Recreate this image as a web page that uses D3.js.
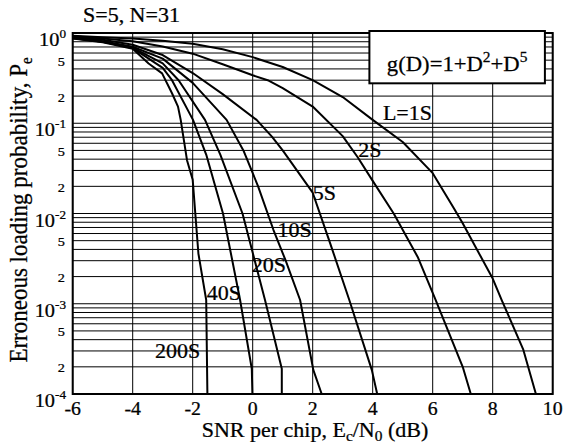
<!DOCTYPE html>
<html>
<head>
<meta charset="utf-8">
<script src="https://cdn.jsdelivr.net/npm/d3@7"></script>
<style>
  body { margin: 0; background: #fff; }
  text { font-family: "Liberation Serif", "Times New Roman", serif; fill: #000; stroke: #000; stroke-width: 0.25; }
  .grid line { stroke: #000; stroke-width: 1; }
  .curve { fill: none; stroke: #000; stroke-width: 2; stroke-linejoin: round; }
</style>
</head>
<body>
<svg></svg>
<script>
// axis ticks
var xTicks = [-6, -4, -2, 0, 2, 4, 6, 8, 10];
var yDecades = [0, -1, -2, -3, -4];
var yMinorLabels = [5, 2];

// curves: SNR (dB) and Pe
var snr1S = [-6, -5, -4, -3, -2, -1, 0, 1, 2, 3, 4, 5, 6, 6.7, 7, 8, 8.3, 9.02, 9.44];
var pe1S = [0.93, 0.9, 0.87, 0.82, 0.76, 0.66, 0.54, 0.42, 0.3, 0.195, 0.109, 0.062, 0.028, 0.0115, 0.0078, 0.0019, 0.0011, 0.00031, 0.0001];

var snr2S = [-6, -5, -4, -3, -2, -1, 0, 0.5, 1, 2, 3, 3.5, 4, 4.7, 5.5, 6.1, 7, 7.27];
var pe2S = [0.92, 0.87, 0.81, 0.71, 0.59, 0.45, 0.34, 0.3, 0.245, 0.153, 0.072, 0.042, 0.023, 0.01, 0.0033, 0.0011, 0.0002, 0.0001];

var snr5S = [-6, -5, -4, -3, -2, -1, 0.13, 0.64, 1, 2, 2.58, 3.22, 3.97, 4.15];
var pe5S = [0.9, 0.84, 0.74, 0.57, 0.36, 0.21, 0.109, 0.071, 0.05, 0.017, 0.0047, 0.0011, 0.000185, 0.0001];

var snr10S = [-6, -5, -4, -3, -2, -0.87, -0.31, 0.18, 0.69, 1.1, 1.58, 2.02, 2.3];
var pe10S = [0.89, 0.81, 0.705, 0.52, 0.28, 0.109, 0.05, 0.02, 0.0066, 0.003, 0.0011, 0.000185, 0.0001];

var snr20S = [-6, -5, -4, -3, -2.47, -1.59, -1.08, -0.34, 0.41, 0.97, 0.97];
var pe20S = [0.88, 0.8, 0.69, 0.46, 0.3, 0.109, 0.045, 0.01, 0.0011, 0.00019, 0.0001];

var snr40S = [-6, -5, -4, -3, -2.69, -1.99, -1.55, -0.99, -0.42, -0.03, -0.01];
var pe40S = [0.875, 0.8, 0.68, 0.41, 0.3, 0.109, 0.045, 0.01, 0.0011, 0.00019, 0.0001];

var snr200S = [-6, -5, -4, -3.47, -3.02, -2.69, -2.49, -2.4, -2.19, -2.0, -1.81, -1.55, -1.51];
var pe200S = [0.87, 0.79, 0.67, 0.46, 0.357, 0.215, 0.153, 0.109, 0.039, 0.0236, 0.0036, 0.0011, 0.0001];

var curveNames = ["L=1S", "2S", "5S", "10S", "20S", "40S", "200S"];
var curveSnr = [snr1S, snr2S, snr5S, snr10S, snr20S, snr40S, snr200S];
var curvePe = [pe1S, pe2S, pe5S, pe10S, pe20S, pe40S, pe200S];

// where the curve labels sit (data units, left/baseline of text)
var labelAt = [[4.34, 0.1087], [3.52, 0.0426], [2.0, 0.0141], [0.83, 0.00553], [-0.03, 0.00226], [-1.53, 0.0011], [-3.26, 0.00025]];

var W = 564, H = 447;
var sx = 1.1; // the original lettering is a bit wide

var svg = d3.select("svg").attr("width", W).attr("height", H);

var x = d3.scaleLinear().domain([-6, 10]).range([72.7, 552.7]);
var y = d3.scaleLog().domain([1e-4, 1]).range([394, 33]);

// horizontal grid: every 1..9 of each decade
var yGrid = [];
yDecades.slice(1).forEach(function (d) {
	for (var k = 1; k <= 9; k++) yGrid.push(k * Math.pow(10, d));
});

var grid = svg.append("g").attr("class", "grid");
grid.selectAll(".hg").data(yGrid).enter().append("line")
	.attr("x1", x(-6)).attr("x2", x(10))
	.attr("y1", d => y(d)).attr("y2", d => y(d));
grid.selectAll(".vg").data(xTicks).enter().append("line")
	.attr("x1", d => x(d)).attr("x2", d => x(d))
	.attr("y1", y(1)).attr("y2", y(1e-4));

// curves
var line = d3.line().x(d => x(d[0])).y(d => y(d[1]));
curveSnr.forEach(function (s, i) {
	svg.append("path").attr("class", "curve")
		.attr("d", line(s.map((v, j) => [v, curvePe[i][j]])));
});

// frame
svg.append("rect")
	.attr("x", x(-6)).attr("y", y(1))
	.attr("width", x(10) - x(-6)).attr("height", y(1e-4) - y(1))
	.attr("fill", "none").attr("stroke", "#000").attr("stroke-width", 2);

// note box
var bx0 = x(3.89), bx1 = x(9.74), by0 = y(1) - 2, by1 = y(0.277);
svg.append("rect")
	.attr("x", bx0).attr("y", by0).attr("width", bx1 - bx0).attr("height", by1 - by0)
	.attr("fill", "#fff").attr("stroke", "#000").attr("stroke-width", 2);
var note = svg.append("text")
	.attr("text-anchor", "middle")
	.attr("transform", "translate(" + ((bx0 + bx1) / 2) + "," + (by1 - 12) + ") scale(1.03,1)")
	.style("font-size", "22px");
note.append("tspan").text("g(D)=1+D");
note.append("tspan").attr("dy", -9).style("font-size", "15px").text("2");
note.append("tspan").attr("dy", 9).text("+D");
note.append("tspan").attr("dy", -9).style("font-size", "15px").text("5");

function put(sel, px, py, extra) {
	return sel.attr("transform", "translate(" + px + "," + py + ") scale(" + sx + ",1)" + (extra || ""));
}

// curve labels
curveNames.forEach(function (n, i) {
	put(svg.append("text").style("font-size", "20px").text(n), x(labelAt[i][0]), y(labelAt[i][1]));
});

// x tick labels
xTicks.forEach(function (t) {
	put(svg.append("text").attr("text-anchor", "middle").style("font-size", "18px").text(t), x(t), 414.5);
});

// y tick labels
yDecades.forEach(function (d) {
	var t = put(svg.append("text").attr("text-anchor", "end").style("font-size", "18.5px"), 66, y(Math.pow(10, d)) + 13);
	t.append("tspan").text("10");
	t.append("tspan").attr("dy", -8).style("font-size", "12px").text(d);
});
yDecades.slice(1).forEach(function (d) {
	yMinorLabels.forEach(function (k) {
		put(svg.append("text").attr("text-anchor", "end").style("font-size", "13px").text(k),
			65, y(k * Math.pow(10, d)) + 5.5);
	});
});

// title and axis titles
put(svg.append("text").style("font-size", "20px").text("S=5, N=31"), 83, 21.7);

var xl = put(svg.append("text").attr("text-anchor", "middle").style("font-size", "20px"), 315, 436.5);
xl.append("tspan").text("SNR per chip, E");
xl.append("tspan").attr("dy", 4).style("font-size", "14px").text("c");
xl.append("tspan").attr("dy", -4).text("/N");
xl.append("tspan").attr("dy", 4).style("font-size", "14px").text("0");
xl.append("tspan").attr("dy", -4).text(" (dB)");

var yl = svg.append("text").attr("text-anchor", "middle").style("font-size", "23px")
	.attr("transform", "translate(27,210) scale(1.06,1) rotate(-90)");
yl.append("tspan").text("Erroneous loading probability, P");
yl.append("tspan").attr("dy", 5).style("font-size", "15px").text("e");
</script>
</body>
</html>
